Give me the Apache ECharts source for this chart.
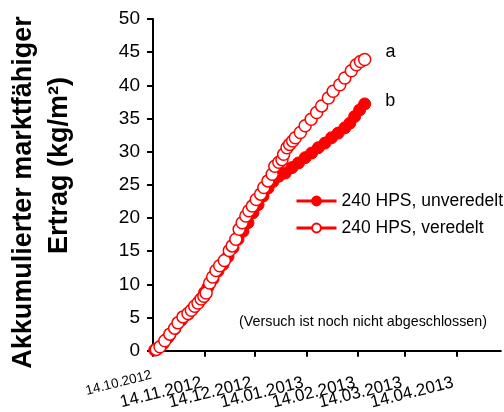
<!DOCTYPE html>
<html>
<head>
<meta charset="utf-8">
<script src="https://cdn.jsdelivr.net/npm/echarts@6/dist/echarts.min.js"></script>
<style>
html,body{margin:0;padding:0;background:#fff;}
#c{width:504px;height:412px;}
</style>
</head>
<body>
<div id="c"></div>
<script>
// ---- data ----
const startDate = '2012-10-14';
const endDate = '2013-05-11';
const tickLabels = ['14.10.2012','14.11.2012','14.12.2012','14.01.2013','14.02.2013','14.03.2013','14.04.2013'];

// days after start date
const veredeltDays = [2,4.2,7.1,10.1,13,15,18,21,23,25,27,28.9,30.5,31.9,34,35.8,37.8,40,42.8,45.8,47.5,49.7,51.7,53.5,55.7,57.5,59.6,62,64.6,66.5,69,71.5,73.1,75.5,77.4,78.4,80.4,82,83.8,85.4,88.4,91.3,94.9,98.2,101.2,105.2,108.1,112.1,115.1,119,122,124.5,127];
const veredeltValues = [0.2,0.6,1.5,2.5,3.4,4.2,5.1,5.6,6.1,6.7,7.2,7.8,8.2,8.7,10.2,11.1,12.1,12.8,13.6,15.1,15.8,16.8,18.3,19.3,20.3,21.1,21.8,22.8,23.6,24.6,25.6,26.6,27.8,28.4,28.8,29.6,30.6,31.1,31.6,32.1,32.9,33.9,34.9,35.9,36.9,38.1,39.1,40.1,41.1,42.2,43.1,43.6,43.9];

const unveredeltDays = [1,3,6,9,13,17,21,24,28,31,33,36,39,42,45,48,51,54,57,60,63,66,69,72,75.5,79.4,83.4,87.3,91.3,95.2,99.2,103.2,107.1,111.1,115.1,118.1,121,124,127];
const unveredeltValues = [0.1,0.4,1.0,2.0,3.3,4.6,5.5,6.4,7.6,8.8,9.6,10.8,12.0,13.0,14.2,15.5,16.8,18.0,19.3,20.8,22.0,23.3,24.5,25.5,26.3,26.8,27.6,28.3,29.1,29.8,30.6,31.3,32.1,32.8,33.6,34.3,35.3,36.3,37.2];

const seriesNames = ['240 HPS, unveredelt','240 HPS, veredelt'];
const endLetters = ['b','a'];
const note = '(Versuch ist noch nicht abgeschlossen)';
const yTitle1 = 'Akkumulierter marktfähiger';
const yTitle2 = 'Ertrag (kg/m²)';

// ---- helpers ----
function dayOf(s){
  let y,m,d;
  if (s.indexOf('.')>0){ [d,m,y]=s.split('.').map(Number); } else { [y,m,d]=s.split('-').map(Number); }
  const [sy,sm,sd]=startDate.split('-').map(Number);
  return Math.round((Date.UTC(y,m-1,d)-Date.UTC(sy,sm-1,sd))/864e5);
}
const tickDays = tickLabels.map(dayOf);
const maxDay = dayOf(endDate) - 0.3;
const labelByDay = {};
tickDays.forEach((d,i)=>labelByDay[d]=i);
// a blank trailing label slot so that no real label is treated as the axis "max label"
const labelDays = tickDays.concat([Math.floor(maxDay)]);

const FONT = 'Arial, "Liberation Sans", sans-serif';

function pts(days, vals, letter, dy){
  return days.map((d,i)=>{
    const p = {value:[d, vals[i]]};
    if (i===days.length-1){
      p.label = {show:true, formatter:letter, position:'right', distance:14, offset:[0,dy],
        color:'#000', fontSize:18, fontFamily:FONT};
    }
    return p;
  });
}

const chart = echarts.init(document.getElementById('c'), null, {renderer:'canvas'});
chart.setOption({
  animation:false,
  backgroundColor:'#fff',
  grid:{left:153, top:19, right:0, bottom:60, containLabel:false},
  xAxis:{
    type:'value', min:0, max:maxDay,
    axisLine:{show:true, onZero:false, lineStyle:{color:'#000', width:2}},
    axisTick:{show:true, customValues:tickDays, length:6, lineStyle:{color:'#000', width:2}},
    splitLine:{show:false},
    axisLabel:{customValues:labelDays, rotate:14, margin:31, color:'#000', fontFamily:FONT,
      hideOverlap:false, showMinLabel:true, showMaxLabel:true,
      formatter:v=>{const i=labelByDay[Math.round(v)]; if(i===undefined) return ' '; return (i===0?'{f|':'{n|')+tickLabels[i]+'}';},
      rich:{
        f:{fontSize:13.5, fontFamily:FONT, color:'#000', padding:[0,0,14,0]},
        n:{fontSize:17, fontFamily:FONT, color:'#000', padding:[0,3,0,0]}
      }
    }
  },
  yAxis:{
    type:'value', min:0, max:50, interval:5,
    axisLine:{show:true, lineStyle:{color:'#000', width:2}},
    axisTick:{show:true, length:6, lineStyle:{color:'#000', width:2}},
    splitLine:{show:false},
    axisLabel:{margin:13, color:'#000', fontSize:19, fontFamily:FONT}
  },
  legend:{
    orient:'vertical', left:290, top:187, itemGap:9, itemWidth:40, itemHeight:11,
    data:seriesNames,
    textStyle:{color:'#000', fontSize:17.5, fontFamily:FONT},
    lineStyle:{width:3, opacity:1, color:'#ff0000'}
  },
  graphic:[
    {type:'text', x:24, y:192.5, rotation:Math.PI/2,
      style:{text:yTitle1, font:'bold 27px '+FONT, fill:'#000', align:'center', verticalAlign:'middle'}},
    {type:'text', x:60, y:165.5, rotation:Math.PI/2,
      style:{text:yTitle2, font:'bold 27px '+FONT, fill:'#000', align:'center', verticalAlign:'middle'}},
    {type:'text', x:363, y:322,
      style:{text:note, font:'14.3px '+FONT, fill:'#000', align:'center', verticalAlign:'middle'}}
  ],
  series:[
    {name:seriesNames[0], type:'line', data:pts(unveredeltDays, unveredeltValues, endLetters[0], -3),
      symbol:'circle', symbolSize:12, showAllSymbol:true,
      lineStyle:{width:0, opacity:0, color:'#ff0000'},
      itemStyle:{color:'#ff0000', borderColor:'#ff0000', borderWidth:1}, z:2},
    {name:seriesNames[1], type:'line', data:pts(veredeltDays, veredeltValues, endLetters[1], -7),
      symbol:'circle', symbolSize:12, showAllSymbol:true,
      lineStyle:{width:0, opacity:0, color:'#ff0000'},
      itemStyle:{color:'#ffffff', borderColor:'#ff0000', borderWidth:1.5}, z:3}
  ]
});
</script>
</body>
</html>
